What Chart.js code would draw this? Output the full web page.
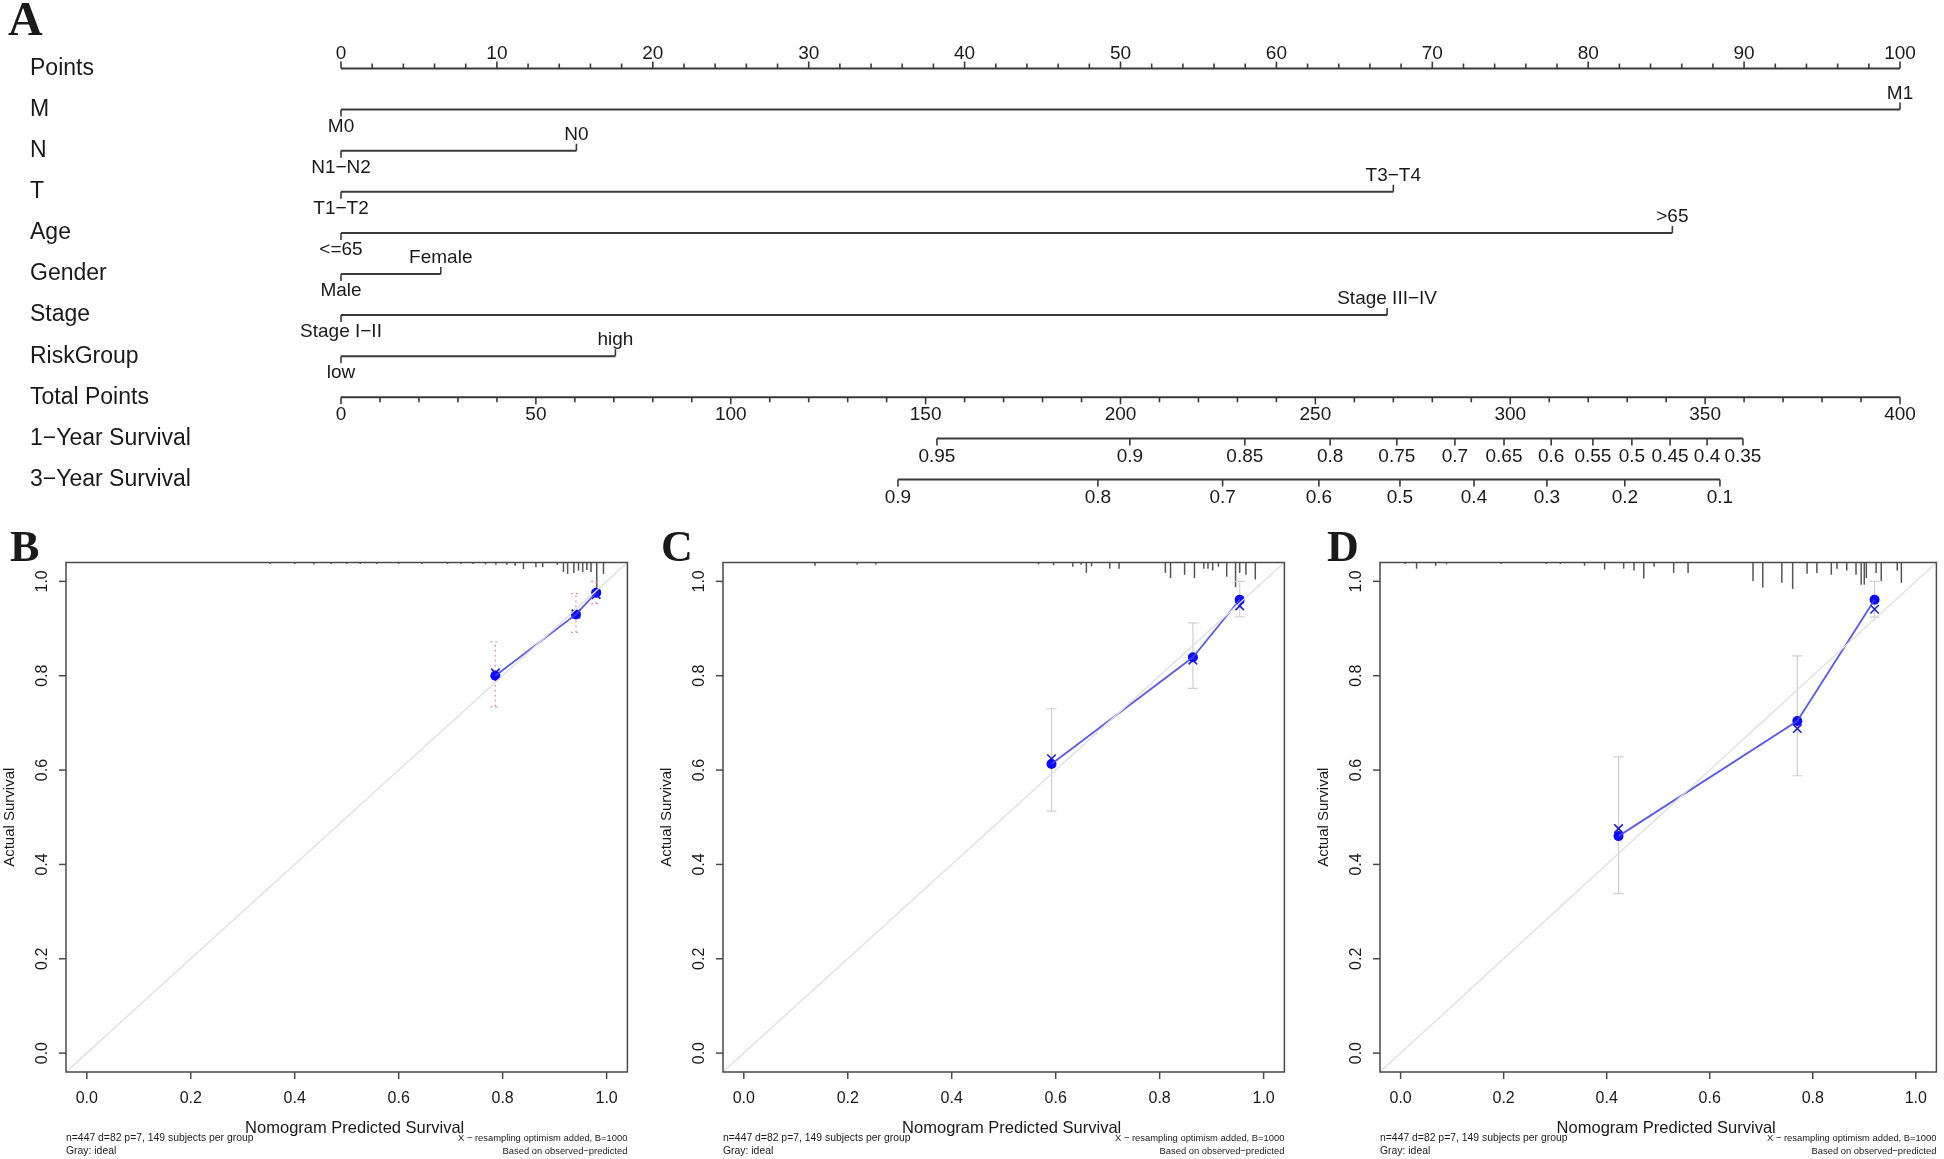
<!DOCTYPE html>
<html>
<head>
<meta charset="utf-8">
<script src="https://cdn.jsdelivr.net/npm/chart.js@4.4.1/dist/chart.umd.min.js"></script>
<style>
  html, body { margin: 0; padding: 0; background: #fff; }
  body { width: 1944px; height: 1159px; position: relative; overflow: hidden; }
  canvas { position: absolute; }
</style>
</head>
<body>
<canvas id="nomo" width="1944" height="510" style="left:0;top:0"></canvas>
<canvas id="calB" width="635" height="639" style="left:0;top:520px"></canvas>
<canvas id="calC" width="635" height="639" style="left:657px;top:520px"></canvas>
<canvas id="calD" width="630" height="639" style="left:1314px;top:520px"></canvas>
<script>
/*
   nomogram + three calibration curves
*/
var SANS  = '"Liberation Sans", Arial, sans-serif';
var SERIF = '"Liberation Serif", "Times New Roman", serif';
var INK = '#3a3a3a', TXT = '#1a1a1a';

/* ---- A: nomogram ---- */
var rowLabels = ['Points', 'M', 'N', 'T', 'Age', 'Gender', 'Stage', 'RiskGroup',
                 'Total Points', '1\u2212Year Survival', '3\u2212Year Survival'];
var pointTicks = [0, 10, 20, 30, 40, 50, 60, 70, 80, 90, 100];
var levelNames = [['M0', 'M1'], ['N1\u2212N2', 'N0'], ['T1\u2212T2', 'T3\u2212T4'], ['<=65', '>65'],
                  ['Male', 'Female'], ['Stage I\u2212II', 'Stage III\u2212IV'], ['low', 'high']];
var levelPoints = [[0, 100], [0, 15.1], [0, 67.5], [0, 85.4], [0, 6.4], [0, 67.1], [0, 17.6]];
var totalTicks = [0, 50, 100, 150, 200, 250, 300, 350, 400];
var surv1Labels = ['0.95', '0.9', '0.85', '0.8', '0.75', '0.7', '0.65', '0.6', '0.55', '0.5', '0.45', '0.4', '0.35'];
var surv1Total  = [152.9, 202.4, 231.9, 253.8, 270.9, 285.8, 298.4, 310.5, 321.2, 331.2, 341.0, 350.5, 359.7];
var surv3Labels = ['0.9', '0.8', '0.7', '0.6', '0.5', '0.4', '0.3', '0.2', '0.1'];
var surv3Total  = [142.9, 194.2, 226.2, 250.9, 271.7, 290.7, 309.4, 329.4, 353.8];
var MAX_TOTAL = 400;

/* ---- B/C/D: calibration (predicted, observed, corrected, CI) ---- */
var calTicks = [0, 0.2, 0.4, 0.6, 0.8, 1.0];

var predB = [0.786, 0.941, 0.980];
var obsB  = [0.800, 0.930, 0.976];
var corrB = [0.806, 0.931, 0.972];
var loB   = [0.734, 0.892, 0.953];
var hiB   = [0.872, 0.974, 1.000];
var rugXB = [0.353, 0.40, 0.437, 0.47, 0.50, 0.526, 0.558, 0.60, 0.645, 0.694, 0.72, 0.743, 0.767, 0.787, 0.808,
             0.824, 0.84, 0.864, 0.877, 0.905, 0.917, 0.925, 0.937, 0.946, 0.954, 0.962, 0.970, 0.981, 0.994];
var rugHB = [0.003, 0.003, 0.004, 0.003, 0.003, 0.003, 0.003, 0.003, 0.003, 0.003, 0.003, 0.003, 0.004, 0.005, 0.005,
             0.007, 0.014, 0.010, 0.010, 0.005, 0.020, 0.024, 0.022, 0.017, 0.020, 0.016, 0.020, 0.057, 0.024];

var predC = [0.592, 0.864, 0.954];
var obsC  = [0.613, 0.839, 0.961];
var corrC = [0.624, 0.833, 0.948];
var loC   = [0.513, 0.773, 0.925];
var hiC   = [0.730, 0.912, 1.000];
var rugXC = [0.137, 0.218, 0.254, 0.567, 0.596, 0.633, 0.649, 0.659, 0.669, 0.704, 0.722, 0.811, 0.821, 0.848,
             0.867, 0.885, 0.893, 0.902, 0.913, 0.929, 0.946, 0.954, 0.966, 0.984];
var rugHC = [0.007, 0.004, 0.004, 0.004, 0.006, 0.009, 0.005, 0.022, 0.008, 0.013, 0.013, 0.022, 0.033, 0.026,
             0.033, 0.013, 0.013, 0.017, 0.009, 0.030, 0.052, 0.022, 0.026, 0.036];

var predD = [0.423, 0.770, 0.920];
var obsD  = [0.460, 0.704, 0.961];
var corrD = [0.476, 0.688, 0.941];
var loD   = [0.338, 0.588, 0.924];
var hiD   = [0.628, 0.842, 1.000];
var rugXD = [0.009, 0.031, 0.068, 0.089, 0.195, 0.283, 0.31, 0.357, 0.396, 0.433, 0.453, 0.472, 0.492, 0.530, 0.558,
             0.684, 0.703, 0.740, 0.761, 0.789, 0.808, 0.836, 0.847, 0.866, 0.884, 0.894, 0.900, 0.904, 0.923, 0.933,
             0.964, 0.972];
var rugHD = [0.003, 0.013, 0.007, 0.004, 0.003, 0.003, 0.003, 0.007, 0.015, 0.013, 0.017, 0.034, 0.009, 0.022, 0.022,
             0.039, 0.053, 0.043, 0.056, 0.024, 0.022, 0.026, 0.013, 0.017, 0.026, 0.047, 0.047, 0.033, 0.022, 0.039,
             0.017, 0.043];

function tp(v) { return v * 100 / MAX_TOTAL; }   // total points -> points scale
function xy(xs, ys) { return xs.map(function (x, i) { return { x: x, y: ys[i] }; }); }

/* ================= A ================= */
function seg(row, a, b) {
  return { data: [{ x: a, y: row }, { x: b, y: row }], borderColor: INK, borderWidth: 2,
           pointRadius: 0, clip: false };
}
var nomoSets = [seg(0, 0, 100)];
levelPoints.forEach(function (p, i) { nomoSets.push(seg(i + 1, Math.min.apply(null, p), Math.max.apply(null, p))); });
nomoSets.push(seg(8, 0, tp(MAX_TOTAL)));
nomoSets.push(seg(9, tp(surv1Total[0]), tp(surv1Total[surv1Total.length - 1])));
nomoSets.push(seg(10, tp(surv3Total[0]), tp(surv3Total[surv3Total.length - 1])));

var nomoPlugin = {
  id: 'nomoAxes',
  afterDatasetsDraw: function (chart) {
    var ctx = chart.ctx, xs = chart.scales.x, ys = chart.scales.y;
    function tick(v, row, d) {
      var x = xs.getPixelForValue(v), y = ys.getPixelForValue(row);
      ctx.beginPath(); ctx.moveTo(x, y); ctx.lineTo(x, y + d); ctx.stroke();
    }
    function text(s, v, row, d) { ctx.fillText(s, xs.getPixelForValue(v), ys.getPixelForValue(row) + d); }
    ctx.save();
    ctx.strokeStyle = INK; ctx.fillStyle = TXT; ctx.lineWidth = 1.6;
    ctx.textBaseline = 'middle';

    ctx.font = 'bold 48px ' + SERIF;
    ctx.textAlign = 'left';
    ctx.fillText('A', 8, 23);

    ctx.font = '23px ' + SANS;
    rowLabels.forEach(function (l, i) { ctx.fillText(l, 30, ys.getPixelForValue(i)); });

    ctx.font = '19px ' + SANS;
    ctx.textAlign = 'center';
    // points axis
    for (var v = 0; v <= 100; v += 2) tick(v, 0, v % 10 === 0 ? -7 : -5);
    pointTicks.forEach(function (v) { text(String(v), v, 0, -15); });
    // predictors
    levelPoints.forEach(function (p, i) {
      p.forEach(function (v, k) {
        var up = k === 1;
        tick(v, i + 1, up ? -7 : 7);
        text(levelNames[i][k], v, i + 1, up ? -16 : 17);
      });
    });
    // total points
    for (var t = 0; t <= MAX_TOTAL; t += 10) tick(tp(t), 8, t % 50 === 0 ? 7 : 5);
    totalTicks.forEach(function (t) { text(String(t), tp(t), 8, 17); });
    // survival
    surv1Total.forEach(function (t, i) { tick(tp(t), 9, 7); text(surv1Labels[i], tp(t), 9, 18); });
    surv3Total.forEach(function (t, i) { tick(tp(t), 10, 7); text(surv3Labels[i], tp(t), 10, 18); });
    ctx.restore();
  }
};

new Chart(document.getElementById('nomo'), {
  type: 'line',
  data: { datasets: nomoSets },
  options: {
    responsive: false, animation: false, devicePixelRatio: 1,
    layout: { padding: { left: 341, right: 44, top: 68.5, bottom: 30.5 } },
    plugins: { legend: { display: false }, tooltip: { enabled: false } },
    scales: {
      x: { type: 'linear', min: 0, max: 100, display: false },
      y: { type: 'linear', min: 0, max: 10, reverse: true, display: false }
    }
  },
  plugins: [nomoPlugin]
});

/* ================= B, C, D ================= */
function calChart(id, letter, letterX, padRight, pred, obs, corr, lo, hi, rugX, rugH, errColor, errDash) {
  var plug = {
    id: 'cal' + letter,
    beforeDatasetsDraw: function (chart) {
      var ctx = chart.ctx, xs = chart.scales.x, ys = chart.scales.y, a = chart.chartArea;
      ctx.save();
      // rug of predicted values along the top
      ctx.strokeStyle = '#555'; ctx.lineWidth = 1.5;
      rugX.forEach(function (v, i) {
        var x = xs.getPixelForValue(v);
        var len = ys.getPixelForValue(0) - ys.getPixelForValue(rugH[i]);
        ctx.beginPath(); ctx.moveTo(x, a.top); ctx.lineTo(x, a.top + Math.max(1.5, len)); ctx.stroke();
      });
      // error bars
      ctx.strokeStyle = errColor; ctx.lineWidth = 1.2; ctx.setLineDash(errDash);
      pred.forEach(function (v, i) {
        var x = xs.getPixelForValue(v), y1 = ys.getPixelForValue(lo[i]), y2 = ys.getPixelForValue(hi[i]);
        ctx.beginPath();
        ctx.moveTo(x, y1); ctx.lineTo(x, y2);
        ctx.moveTo(x - 5, y1); ctx.lineTo(x + 5, y1);
        ctx.moveTo(x - 5, y2); ctx.lineTo(x + 5, y2);
        ctx.stroke();
      });
      ctx.restore();
    },
    afterDatasetsDraw: function (chart) {
      var ctx = chart.ctx, xs = chart.scales.x, ys = chart.scales.y, a = chart.chartArea;
      ctx.save();
      ctx.strokeStyle = '#4a4a4a'; ctx.lineWidth = 1.5; ctx.fillStyle = TXT;
      ctx.strokeRect(a.left, a.top, a.right - a.left, a.bottom - a.top);
      ctx.font = '16px ' + SANS; ctx.textAlign = 'center'; ctx.textBaseline = 'middle';
      calTicks.forEach(function (v) {
        var x = xs.getPixelForValue(v), y = ys.getPixelForValue(v);
        ctx.beginPath(); ctx.moveTo(x, a.bottom); ctx.lineTo(x, a.bottom + 7); ctx.stroke();
        ctx.fillText(v.toFixed(1), x, a.bottom + 27);
        ctx.beginPath(); ctx.moveTo(a.left, y); ctx.lineTo(a.left - 7, y); ctx.stroke();
        ctx.save(); ctx.translate(a.left - 23, y); ctx.rotate(-Math.PI / 2);
        ctx.fillText(v.toFixed(1), 0, 0); ctx.restore();
      });
      ctx.font = '15px ' + SANS;
      ctx.save(); ctx.translate(a.left - 56, (a.top + a.bottom) / 2); ctx.rotate(-Math.PI / 2);
      ctx.fillText('Actual Survival', 0, 0); ctx.restore();
      ctx.font = '16.5px ' + SANS;
      ctx.fillText('Nomogram Predicted Survival', (a.left + a.right) / 2 + 8, a.bottom + 56);
      ctx.textAlign = 'left';
      ctx.font = '10.4px ' + SANS;
      ctx.fillText('n=447 d=82 p=7, 149 subjects per group', a.left, a.bottom + 66);
      ctx.fillText('Gray: ideal', a.left, a.bottom + 79);
      ctx.textAlign = 'right';
      ctx.font = '9.4px ' + SANS;
      ctx.fillText('X \u2212 resampling optimism added, B=1000', a.right, a.bottom + 66);
      ctx.fillText('Based on observed\u2212predicted', a.right, a.bottom + 79);
      ctx.font = 'bold 44px ' + SERIF; ctx.textAlign = 'left'; ctx.textBaseline = 'alphabetic';
      ctx.fillText(letter, letterX, a.top - 2);
      ctx.restore();
    }
  };

  new Chart(document.getElementById(id), {
    type: 'line',
    data: {
      datasets: [
        { data: [{ x: -0.04, y: -0.04 }, { x: 1.04, y: 1.04 }], borderColor: '#e0e0e0', borderWidth: 1.3, pointRadius: 0 },
        { data: xy(pred, obs), borderColor: 'rgba(70,70,230,0.88)', borderWidth: 1.8, pointRadius: 0 },
        { data: xy(pred, obs), showLine: false, pointStyle: 'circle', pointRadius: 5,
          backgroundColor: '#0a0aff', borderColor: '#0a0aff', borderWidth: 0 },
        { data: xy(pred, corr), showLine: false, pointStyle: 'crossRot', pointRadius: 6,
          borderColor: '#2020d0', borderWidth: 1.6 }
      ]
    },
    options: {
      responsive: false, animation: false, devicePixelRatio: 1,
      layout: { padding: { left: 66, right: padRight, top: 42.5, bottom: 87 } },
      plugins: { legend: { display: false }, tooltip: { enabled: false } },
      scales: {
        x: { type: 'linear', min: -0.04, max: 1.04, display: false },
        y: { type: 'linear', min: -0.04, max: 1.04, display: false }
      }
    },
    plugins: [plug]
  });
}

calChart('calB', 'B', 10, 2, predB, obsB, corrB, loB, hiB, rugXB, rugHB, 'rgba(225,120,150,0.85)', [2, 3]);
calChart('calC', 'C', 4,  2, predC, obsC, corrC, loC, hiC, rugXC, rugHC, '#cfcfcf', []);
calChart('calD', 'D', 13, 1, predD, obsD, corrD, loD, hiD, rugXD, rugHD, '#cfcfcf', []);
</script>
</body>
</html>
